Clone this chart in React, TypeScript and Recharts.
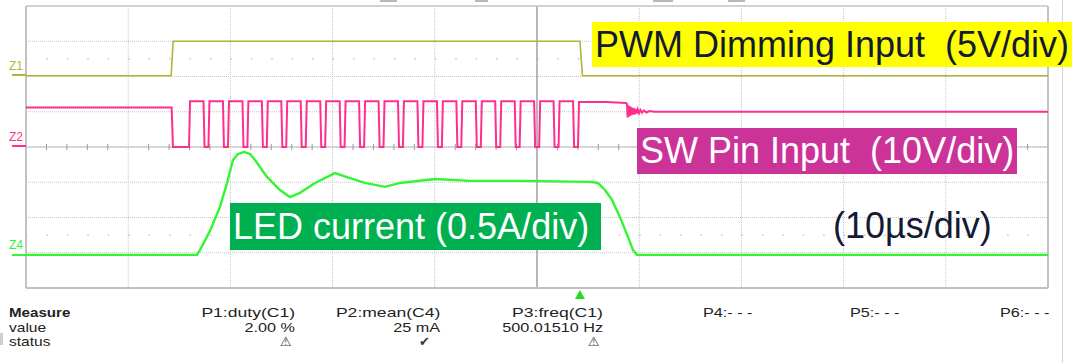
import { LineChart, Line, XAxis, YAxis, CartesianGrid, ReferenceLine, ReferenceDot } from "recharts";

// scope grid: 10 µs/div horizontally, 8 vertical divisions
const timeTicks = [-50, -40, -30, -20, -10, 0, 10, 20, 30, 40, 50];
const divTicks = [-4, -3, -2, -1, 0, 1, 2, 3, 4];
const minorTicks = [
  -48, -46, -44, -42, -38, -36, -34, -32, -28, -26, -24, -22, -18, -16, -14, -12, -8, -6, -4, -2,
  2, 4, 6, 8, 12, 14, 16, 18, 22, 24, 26, 28, 32, 34, 36, 38, 42, 44, 46, 48,
];

// Z1: PWM dimming input (div)
const pwmTimes = [-50, -35.8, -35.6, 4.2, 4.45, 50];
const pwmLevels = [2.02, 2.02, 3.0, 3.0, 2.02, 2.02];

// Z2: SW pin, idle before the burst
const swHeadTimes = [-50, -35.75, -35.62];
const swHeadLevels = [1.12, 1.12, 0];
// switching edges during the burst (µs)
const swRises = [
  -34.05, -32.15, -30.24, -28.34, -26.44, -24.54, -22.63, -20.73, -18.83, -16.92, -15.02,
  -13.12, -11.21, -9.31, -7.41, -5.5, -3.6, -1.7, 0.21, 2.11, 4.01,
];
const swFalls = [
  -32.63, -30.73, -28.82, -26.92, -25.02, -23.12, -21.21, -19.31, -17.41, -15.5, -13.6,
  -11.7, -9.79, -7.89, -5.99, -4.09, -2.18, -0.28, 1.62, 3.53,
];
const swPulseHigh = 1.3;
// after the last pulse: high, ringing, then settled
const swTailTimes = [
  6.8, 8.7, 8.81, 8.86, 8.92, 8.98, 9.04, 9.1, 9.17, 9.24, 9.31, 9.39, 9.47, 9.56, 9.65, 9.75,
  9.86, 9.98, 10.12, 10.28, 10.46, 10.7, 11.0, 11.5, 30, 50,
];
const swTailLevels = [
  1.28, 1.25, 1.22, 0.84, 1.18, 0.86, 1.16, 0.88, 1.14, 0.9, 1.12, 0.92, 1.1, 0.93, 1.08, 0.95,
  1.07, 0.96, 1.05, 0.97, 1.04, 0.98, 1.02, 1.0, 1.0, 1.0,
];

// Z4: LED current
const ledTimes = [
  -50, -33.27, -32.97, -32.0, -31.02, -30.33, -29.75, -29.26, -28.67, -28.08, -27.59, -26.42,
  -25.15, -24.17, -23.19, -21.72, -19.77, -18.3, -16.83, -14.87, -13.41, -9.98, -6.56, -1.66,
  5.19, 5.97, 6.65, 7.34, 8.12, 8.9, 9.39, 9.78, 50,
];
const ledLevels = [
  -3.06, -3.06, -2.92, -2.38, -1.7, -1.02, -0.37, -0.2, -0.14, -0.2, -0.37, -0.85,
  -1.22, -1.42, -1.3, -1.02, -0.74, -0.88, -1.02, -1.13, -1.02, -0.91, -0.96, -0.96,
  -0.99, -1.02, -1.22, -1.5, -1.99, -2.55, -2.92, -3.06, -3.06,
];

const measureHeads = ["P1:duty(C1)", "P2:mean(C4)", "P3:freq(C1)"];
const measureValues = ["2.00 %", "25 mA", "500.01510 Hz"];
const measureStatus = ["\u26A0", "\u2714", "\u26A0"];
const emptyHeads = ["P4:- - -", "P5:- - -", "P6:- - -"];

const EDGE = 0.1;

const pwmData = pwmTimes.map((t, i) => ({ t, v: pwmLevels[i] }));
const ledData = ledTimes.map((t, i) => ({ t, v: ledLevels[i] }));

const swData: { t: number; v: number }[] = swHeadTimes.map((t, i) => ({ t, v: swHeadLevels[i] }));
swFalls.forEach((f, i) => {
  const r = swRises[i];
  swData.push({ t: r, v: 0 }, { t: r + EDGE, v: swPulseHigh }, { t: f, v: swPulseHigh }, { t: f + EDGE, v: 0 });
});
swData.push({ t: swRises[swRises.length - 1], v: 0 }, { t: swRises[swRises.length - 1] + EDGE, v: 1.28 });
swTailTimes.forEach((t, i) => swData.push({ t, v: swTailLevels[i] }));

const font = '"Liberation Sans", Arial, sans-serif';
const navy = "#131a36";
const gridColor = "#c4c4c4";

const colX = [295, 440, 603];
const emptyX = [703, 850, 1000];

const cell = (extra: any) => ({
  position: "absolute" as const,
  fontSize: 13.5,
  lineHeight: "14px",
  color: "#222",
  whiteSpace: "pre" as const,
  ...extra,
});

function Tag({ left, top, width, height, bg, color, text }: any) {
  return (
    <div
      style={{
        position: "absolute",
        left,
        top,
        width,
        height,
        background: bg,
        color,
        fontSize: 36,
        lineHeight: `${height}px`,
        paddingLeft: 3,
        boxSizing: "border-box",
        whiteSpace: "pre",
      }}
    >
      {text}
    </div>
  );
}

export default function App() {
  return (
    <div
      style={{
        position: "absolute",
        left: 0,
        top: 0,
        width: 1077,
        height: 363,
        background: "#fff",
        overflow: "hidden",
        fontFamily: font,
      }}
    >
      <LineChart width={1077} height={363} margin={{ top: 6, right: 29, bottom: 75, left: 26 }}>
        <XAxis type="number" dataKey="t" domain={[-50, 50]} ticks={timeTicks} allowDataOverflow hide />
        <YAxis type="number" domain={[-4, 4]} ticks={divTicks} allowDataOverflow hide />
        <CartesianGrid stroke={gridColor} strokeDasharray="1 1" />
        {/* minor dot rows */}
        <ReferenceLine y={2.5} stroke="#a8a8a8" strokeDasharray="1.5 18.94" />
        <ReferenceLine y={-2.5} stroke="#a8a8a8" strokeDasharray="1.5 18.94" />
        {/* center axes */}
        <ReferenceLine y={0} stroke="#bdbdbd" />
        <ReferenceLine x={0} stroke="#a4a4a4" strokeWidth={1.5} />
        {minorTicks.map((t) => (
          <ReferenceLine
            key={t}
            segment={[
              { x: t, y: -0.09 },
              { x: t, y: 0.09 },
            ]}
            stroke="#9a9a9a"
          />
        ))}
        {/* frame */}
        <ReferenceLine x={-50} stroke="#c2c2c2" strokeWidth={2} />
        <ReferenceLine x={50} stroke="#c2c2c2" strokeWidth={2} />
        <ReferenceLine y={4} stroke="#c8c8c8" strokeWidth={1.5} />
        <ReferenceLine y={-4} stroke="#c2c2c2" strokeWidth={2} />

        <Line data={pwmData} dataKey="v" type="linear" stroke="#b3b43a" strokeWidth={1.6} dot={false} isAnimationActive={false} />
        <Line data={swData} dataKey="v" type="linear" stroke="#ff2f8e" strokeWidth={2} dot={false} isAnimationActive={false} />
        <Line data={ledData} dataKey="v" type="linear" stroke="#33f533" strokeWidth={2.4} dot={false} isAnimationActive={false} />

        <ReferenceDot
          x={4.2}
          y={-4}
          ifOverflow="visible"
          shape={(p: any) => (
            <polygon
              points={`${p.cx},${p.cy + 2} ${p.cx - 5},${p.cy + 11} ${p.cx + 5},${p.cy + 11}`}
              fill="#22dd22"
            />
          )}
        />
      </LineChart>

      {/* channel markers */}
      <div style={{ position: "absolute", left: 9, top: 59, fontSize: 12, color: "#b3b43a" }}>Z1</div>
      <div style={{ position: "absolute", left: 12, top: 74, width: 14, height: 2, background: "#b3b43a" }} />
      <div style={{ position: "absolute", left: 9, top: 130, fontSize: 12, color: "#ff2f8e" }}>Z2</div>
      <div style={{ position: "absolute", left: 12, top: 145, width: 14, height: 2, background: "#ff2f8e" }} />
      <div style={{ position: "absolute", left: 9, top: 238, fontSize: 12, color: "#33f533" }}>Z4</div>
      <div style={{ position: "absolute", left: 12, top: 254, width: 14, height: 2, background: "#33f533" }} />

      {/* side line and top fragments */}
      <div style={{ position: "absolute", left: 1062, top: 0, width: 1, height: 363, background: "#d4d4d4" }} />
      {[380, 475, 653, 728].map((x, i) => (
        <div key={x} style={{ position: "absolute", left: x, top: 0, width: [17, 13, 20, 17][i], height: 2, background: "#b8b8b8" }} />
      ))}
      <div style={{ position: "absolute", left: 0, top: 333, width: 3, height: 12, background: "#cfcfcf" }} />

      {/* annotations */}
      <Tag left={592} top={22} width={480} height={45} bg="#ffff00" color={navy} text={"PWM Dimming Input  (5V/div)"} />
      <Tag left={637} top={128} width={380} height={46} bg="#cc3399" color="#fff" text={"SW Pin Input  (10V/div)"} />
      <Tag left={230} top={203} width={371} height={47} bg="#00b050" color="#fff" text={"LED current (0.5A/div)"} />
      <div style={{ position: "absolute", left: 833, top: 206, fontSize: 36, lineHeight: "40px", color: navy }}>
        (10µs/div)
      </div>

      {/* measure table */}
      <div style={cell({ left: 9, top: 306, fontWeight: "bold", transform: "scaleX(1.12)", transformOrigin: "left" })}>Measure</div>
      <div style={cell({ left: 9, top: 321, transform: "scaleX(1.15)", transformOrigin: "left" })}>value</div>
      <div style={cell({ left: 9, top: 335, transform: "scaleX(1.15)", transformOrigin: "left" })}>status</div>
      {measureHeads.map((h, i) => (
        <div key={h} style={cell({ right: 1077 - colX[i], top: 306, transform: "scaleX(1.3)", transformOrigin: "right" })}>
          {h}
        </div>
      ))}
      {measureValues.map((h, i) => (
        <div key={h} style={cell({ right: 1077 - colX[i], top: 321, transform: "scaleX(1.2)", transformOrigin: "right" })}>
          {h}
        </div>
      ))}
      {measureStatus.map((h, i) => (
        <div
          key={i}
          style={{
            position: "absolute",
            left: colX[i] - (i === 1 ? 21 : 15),
            top: 335,
            fontSize: 13,
            lineHeight: "14px",
            fontWeight: "bold",
            color: "#3a3a3a",
            fontFamily: '"DejaVu Sans", sans-serif',
          }}
        >
          {h}
        </div>
      ))}
      {emptyHeads.map((h, i) => (
        <div key={h} style={cell({ left: emptyX[i], top: 306, transform: "scaleX(1.2)", transformOrigin: "left" })}>
          {h}
        </div>
      ))}
    </div>
  );
}
